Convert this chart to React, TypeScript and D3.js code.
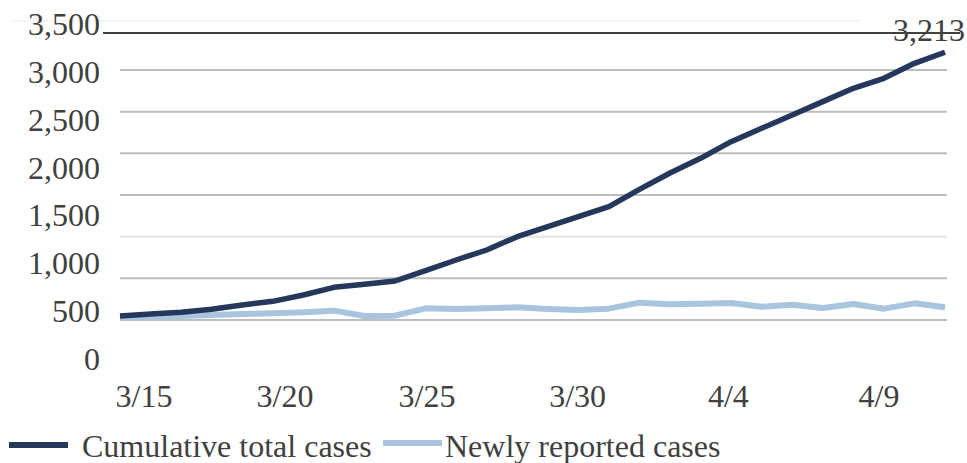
import React from "react";
import * as d3 from "d3";

const dates = [
  "3/15","3/16","3/17","3/18","3/19","3/20","3/21","3/22","3/23","3/24",
  "3/25","3/26","3/27","3/28","3/29","3/30","3/31","4/1","4/2","4/3",
  "4/4","4/5","4/6","4/7","4/8","4/9","4/10","4/11",
];
const cumulativeCases = [
  48, 72, 92, 128, 180, 224, 300, 392, 428, 468,
  592, 720, 840, 1000, 1120, 1240, 1360, 1568, 1764, 1940,
  2140, 2300, 2460, 2620, 2780, 2900, 3080, 3213,
];
const newCases = [
  32, 40, 48, 60, 72, 80, 92, 112, 48, 52,
  140, 132, 140, 152, 132, 120, 136, 208, 188, 196,
  204, 160, 184, 144, 192, 136, 200, 152,
];
const yTicks = [0, 500, 1000, 1500, 2000, 2500, 3000, 3500];
const gridValues = [0, 500, 1000, 1500, 2000, 2500, 3000];
const xTickLabels = ["3/15", "3/20", "3/25", "3/30", "4/4", "4/9"];
const seriesNames = ["Cumulative total cases", "Newly reported cases"];
const seriesColors = ["#26375c", "#a9c4de"];

const W = 967;
const H = 463;
const FONT = "'Liberation Serif', 'Times New Roman', serif";
const FS = 32;

export default function App() {
  const idx = dates.map((_, i) => i);
  const x = d3.scaleLinear().domain([0, dates.length - 1]).range([120, 945]);
  const y = d3.scaleLinear().domain([0, 3500]).range([320, 28.3]);
  // tick label placement as rendered in the source image
  const yLabel = d3.scaleLinear().domain([0, 3500]).range([370, 35]);
  const xLabel = d3.scaleLinear().domain([0, 5, 10, 25]).range([144, 285, 427, 879]);

  const line = (vals: number[]) =>
    d3.line<number>().x((i) => x(i)).y((i) => y(vals[i]))(idx) || "";

  const last = dates.length - 1;
  const fmt = d3.format(",");
  const legendX = [9, 383];
  const legendTextX = [82, 445];

  return (
    <svg
      width={W}
      height={H}
      style={{ position: "absolute", left: 0, top: 0, background: "#fff" }}
      fontFamily={FONT}
    >
      <line x1={10} x2={860} y1={21} y2={21} stroke="#ececec" strokeWidth={1} />
      {gridValues.map((v) => (
        <line
          key={v}
          x1={120}
          x2={947}
          y1={y(v)}
          y2={y(v)}
          stroke={v === 1000 ? "#e4e4e4" : "#bdbdbd"}
          strokeWidth={2}
        />
      ))}
      <line x1={103} x2={960} y1={33} y2={33} stroke="#404040" strokeWidth={2} />
      {yTicks.map((v) => (
        <text
          key={v}
          x={100}
          y={yLabel(v)}
          textAnchor="end"
          fontSize={FS}
          fill="#404040"
        >
          {fmt(v)}
        </text>
      ))}
      {xTickLabels.map((d) => (
        <text
          key={d}
          x={xLabel(dates.indexOf(d))}
          y={407}
          textAnchor="middle"
          fontSize={FS}
          fill="#404040"
        >
          {d}
        </text>
      ))}
      <path
        d={line(newCases)}
        fill="none"
        stroke={seriesColors[1]}
        strokeWidth={6}
        strokeLinejoin="round"
      />
      <path
        d={line(cumulativeCases)}
        fill="none"
        stroke={seriesColors[0]}
        strokeWidth={5.5}
        strokeLinejoin="round"
      />
      <text
        x={x(last) - 16}
        y={y(cumulativeCases[last]) - 11}
        textAnchor="middle"
        fontSize={FS}
        fill="#404040"
      >
        {fmt(cumulativeCases[last])}
      </text>
      {seriesNames.map((name, i) => (
        <g key={name}>
          <line
            x1={legendX[i]}
            x2={legendX[i] + 59}
            y1={445 - i * 2}
            y2={445 - i * 2}
            stroke={seriesColors[i]}
            strokeWidth={6}
          />
          <text x={legendTextX[i]} y={457} fontSize={FS} fill="#404040">
            {name}
          </text>
        </g>
      ))}
    </svg>
  );
}
